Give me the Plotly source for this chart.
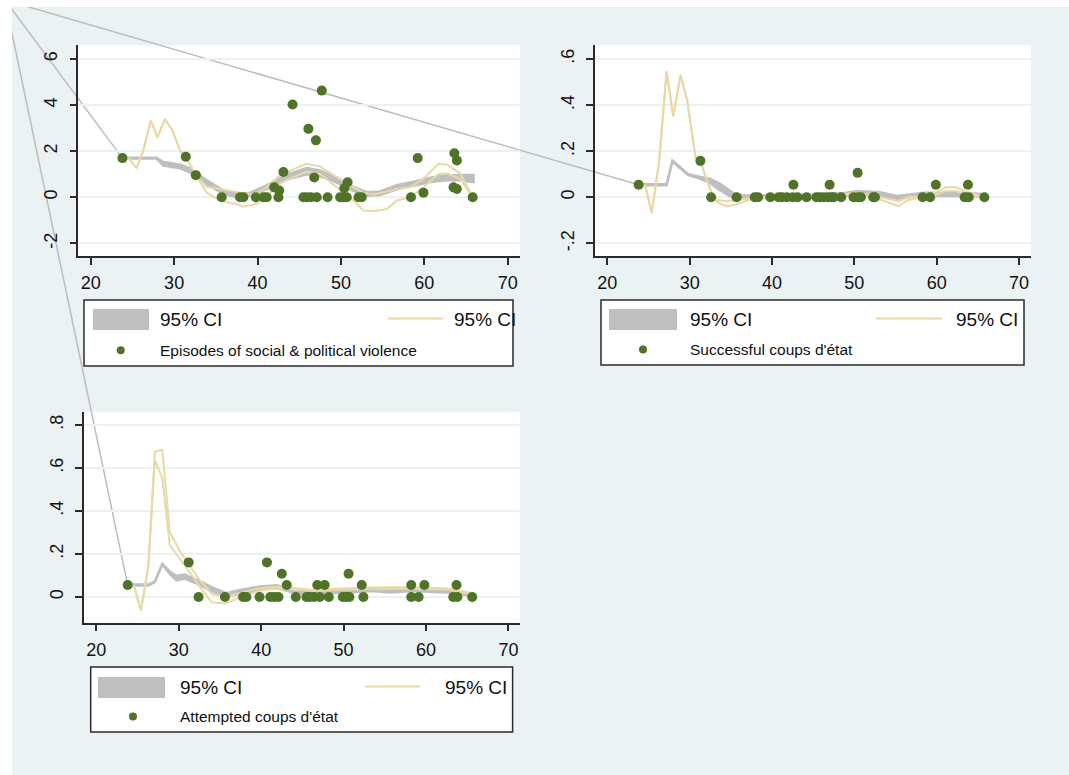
import plotly.graph_objects as go

W, H = 1069, 775

# ---------------- data ----------------
x_ticks = [20, 30, 40, 50, 60, 70]

# Panel 1: Episodes of social & political violence
age_violence = [23.8, 31.4, 32.6, 35.7, 37.9, 38.3, 39.8, 40.7, 41.1, 42.0, 42.5, 42.6, 43.1, 44.2,
                45.5, 45.9, 46.1, 46.4, 46.8, 47.0, 47.1, 47.7, 48.4, 49.9, 50.3, 50.4, 50.7, 50.8,
                52.1, 52.5, 58.4, 59.2, 59.9, 63.5, 63.6, 63.9, 63.9, 65.8]
violence = [1.70, 1.76, 0.96, 0, 0, 0, 0, 0, 0, 0.43, 0, 0.29, 1.10, 4.03,
            0, 0, 2.97, 0, 0.86, 2.47, 0, 4.63, 0, 0, 0, 0.39, 0, 0.65,
            0, 0, 0, 1.70, 0.20, 0.43, 1.91, 1.60, 0.36, 0]
band1_x = [23.8, 26.0, 27.9, 28.7, 30.7, 31.9, 33.9, 35.9, 37.5, 39.1, 41.1, 43.5, 45.9, 47.5,
           49.5, 51.5, 53.1, 54.7, 56.7, 58.7, 60.7, 62.7, 64.3, 65.9]
band1_hi = [1.72, 1.72, 1.72, 1.53, 1.42, 1.25, 0.74, 0.30, 0.15, 0.20, 0.52, 0.98, 1.27, 1.16,
            0.85, 0.45, 0.22, 0.25, 0.52, 0.67, 0.85, 0.96, 0.98, 0.97]
band1_lo = [1.68, 1.68, 1.68, 1.37, 1.26, 1.08, 0.57, 0.15, 0.00, 0.07, 0.35, 0.77, 1.00, 0.91,
            0.64, 0.28, 0.07, 0.10, 0.35, 0.50, 0.66, 0.74, 0.74, 0.66]
ci1_x = [23.8, 24.6, 25.5, 26.3, 27.2, 28.0, 28.9, 29.8, 30.7, 31.4, 32.6, 33.9, 35.5, 37.5, 38.3,
         39.5, 40.3, 41.1, 42.7, 43.5, 45.9, 47.5, 49.5, 51.5, 52.7, 53.9, 55.5, 56.7, 58.3, 59.9,
         61.7, 62.7, 64.3, 65.5]
ci1_hi = [1.70, 1.68, 1.26, 2.03, 3.33, 2.61, 3.39, 2.90, 2.03, 1.76, 0.96, 0.45, 0.36, 0.22, 0.18,
          0.12, 0.25, 0.43, 0.95, 1.09, 1.45, 1.33, 0.87, 0.43, 0.20, 0.12, 0.25, 0.36, 0.43, 0.80,
          1.45, 1.42, 1.04, 0.22]
ci1_lo = [1.70, 1.68, 1.26, 2.03, 3.33, 2.61, 3.39, 2.90, 2.03, 1.76, 0.96, 0.20, -0.14, -0.30, -0.41,
          -0.32, -0.20, 0.05, 0.58, 0.75, 1.12, 1.01, 0.43, -0.14, -0.58, -0.61, -0.51, -0.14, 0.00, 0.43,
          1.01, 1.04, 0.80, 0.14]
y1_ticks = [-2, 0, 2, 4, 6]
y1_labels = ["-2", "0", "2", "4", "6"]

# Panel 2: Successful coups d'etat
age_success = [23.8, 31.3, 32.6, 35.7, 37.9, 38.3, 39.8, 40.8, 41.2, 41.8, 42.5, 42.6, 43.1, 44.2,
               45.4, 45.8, 46.3, 46.8, 47.0, 47.2, 47.5, 48.4, 49.9, 50.4, 50.4, 50.8, 52.3, 52.5,
               58.3, 59.2, 59.9, 63.4, 63.8, 63.9, 65.8]
success = [0.054, 0.158, 0, 0, 0, 0, 0, 0, 0, 0, 0, 0.054, 0, 0,
           0, 0, 0, 0, 0.054, 0, 0, 0, 0, 0, 0.106, 0, 0, 0,
           0, 0, 0.054, 0, 0.054, 0, 0]
band2_x = [23.8, 27.2, 27.9, 29.8, 31.3, 32.5, 33.7, 35.3, 36.5, 38.1, 40.0, 43.0, 46.0, 48.7,
           50.3, 53.1, 55.2, 58.4, 60.8, 63.3, 65.7]
band2_hi = [0.056, 0.056, 0.159, 0.101, 0.088, 0.080, 0.058, 0.018, 0.008, 0.009, 0.011, 0.011, 0.012,
            0.018, 0.027, 0.022, 0.006, 0.020, 0.019, 0.020, 0.013]
band2_lo = [0.052, 0.052, 0.155, 0.097, 0.080, 0.062, 0.030, -0.003, -0.007, -0.003, -0.001, -0.001,
            0.000, 0.004, 0.013, 0.008, -0.006, 0.008, 0.005, 0.006, 0.001]
ci2_x = [23.8, 24.6, 25.4, 26.3, 27.2, 28.0, 28.9, 29.7, 30.7, 31.3, 32.1, 32.7, 33.3, 34.5, 35.7,
         37.5, 39.8, 44.0, 48.0, 50.1, 52.6, 55.4, 56.5, 58.5, 59.9, 61.1, 62.3, 63.9, 65.8]
ci2_hi = [0.054, 0.050, -0.068, 0.160, 0.547, 0.351, 0.531, 0.420, 0.174, 0.158, 0.073, 0.015, -0.012,
          -0.017, -0.012, -0.003, 0.000, 0.003, 0.008, 0.021, 0.005, -0.017, 0.000, 0.005, 0.021, 0.043,
          0.043, 0.021, 0.000]
ci2_lo = [0.054, 0.050, -0.068, 0.160, 0.547, 0.351, 0.531, 0.420, 0.174, 0.158, 0.073, 0.015, -0.020,
          -0.040, -0.030, -0.008, -0.003, -0.001, 0.002, 0.012, -0.002, -0.040, -0.012, 0.000, 0.010,
          0.027, 0.027, 0.010, -0.003]
y2_ticks = [-0.2, 0, 0.2, 0.4, 0.6]
y2_labels = ["-.2", "0", ".2", ".4", ".6"]

# Panel 3: Attempted coups d'etat
age_attempt = [23.8, 31.2, 32.4, 35.6, 37.8, 38.2, 39.8, 40.7, 41.1, 41.6, 42.1, 42.5, 43.1, 44.2,
               45.5, 45.9, 46.4, 46.8, 47.1, 47.7, 48.2, 49.9, 50.3, 50.6, 50.7, 52.2, 52.4, 58.2,
               58.2, 59.1, 59.8, 63.3, 63.7, 63.8, 65.6]
attempt = [0.056, 0.161, 0, 0, 0, 0, 0, 0.161, 0, 0, 0, 0.108, 0.056, 0,
           0, 0, 0, 0.056, 0, 0.056, 0, 0, 0, 0.108, 0, 0.056, 0, 0.056,
           0, 0, 0.056, 0, 0.056, 0, 0]
band3_x = [23.8, 26.3, 27.1, 28.0, 28.9, 29.7, 30.7, 32.2, 34.2, 35.8, 37.0, 39.8, 41.9, 43.9,
           46.3, 50.0, 53.6, 55.6, 58.4, 62.5, 65.7]
band3_hi = [0.058, 0.058, 0.073, 0.155, 0.118, 0.099, 0.104, 0.080, 0.042, 0.018, 0.029, 0.049, 0.055,
            0.032, 0.023, 0.031, 0.038, 0.031, 0.038, 0.031, 0.015]
band3_lo = [0.054, 0.054, 0.069, 0.151, 0.108, 0.077, 0.086, 0.062, 0.024, 0.002, 0.013, 0.033, 0.043,
            0.020, 0.013, 0.021, 0.028, 0.021, 0.028, 0.021, 0.005]
ci3_x = [23.8, 24.6, 25.4, 26.3, 27.1, 28.0, 28.9, 30.1, 31.6, 32.6, 34.0, 35.6, 37.3, 39.8, 42.2,
         46.3, 50.4, 54.4, 58.4, 62.5, 65.7]
ci3_hi = [0.056, 0.050, -0.064, 0.141, 0.676, 0.684, 0.304, 0.215, 0.130, 0.075, 0.015, 0.000, 0.017,
          0.041, 0.049, 0.033, 0.041, 0.045, 0.045, 0.041, 0.017]
ci3_lo = [0.056, 0.050, -0.064, 0.141, 0.637, 0.552, 0.242, 0.180, 0.100, 0.045, -0.025, -0.030, -0.005,
          0.030, 0.041, 0.028, 0.035, 0.038, 0.038, 0.035, 0.012]
y3_ticks = [0, 0.2, 0.4, 0.6, 0.8]
y3_labels = ["0", ".2", ".4", ".6", ".8"]

series_names = ["Episodes of social & political violence", "Successful coups d'état", "Attempted coups d'état"]
ci_label = "95% CI"

# ---------------- styling ----------------
BG = "#EAF2F3"
GREEN = "#4F7328"
GRAY = "#BFBFBF"
SAND = "#E8D9A6"
AXIS = "#2b2b2b"
FONT = "Liberation Sans, Arial, Helvetica, sans-serif"

# panel layout in page pixels: (left, right, top, bottom)
boxes = [(78.3, 520, 45, 256), (595, 1031, 45, 256), (84, 520, 412.3, 622.7)]
xranges = [[18.51, 71.47], [18.5, 71.46], [18.5, 71.4]]
yranges = [[-2.55, 6.61], [-0.255, 0.661], [-0.1195, 0.859]]

def px(x):
    return x / W

def py(y):
    return 1 - y / H

panels = [
    (age_violence, violence, band1_x, band1_lo, band1_hi, ci1_x, ci1_lo, ci1_hi, y1_ticks, y1_labels),
    (age_success, success, band2_x, band2_lo, band2_hi, ci2_x, ci2_lo, ci2_hi, y2_ticks, y2_labels),
    (age_attempt, attempt, band3_x, band3_lo, band3_hi, ci3_x, ci3_lo, ci3_hi, y3_ticks, y3_labels),
]

fig = go.Figure()
layout_axes = {}
shapes = []
for i, (ax, ay, bx, blo, bhi, cx, clo, chi, yt, yl) in enumerate(panels):
    n = "" if i == 0 else str(i + 1)
    xa, ya = "x" + n, "y" + n
    # gray CI band
    fig.add_trace(go.Scatter(x=bx + bx[::-1], y=bhi + blo[::-1], xaxis=xa, yaxis=ya,
                             mode="lines", fill="toself", fillcolor=GRAY,
                             line=dict(color=GRAY, width=2.5), showlegend=False, hoverinfo="skip"))
    # sand CI lines
    for arr in (chi, clo):
        fig.add_trace(go.Scatter(x=cx, y=arr, xaxis=xa, yaxis=ya, mode="lines",
                                 line=dict(color=SAND, width=2), showlegend=False))
    # observations
    fig.add_trace(go.Scatter(x=ax, y=ay, xaxis=xa, yaxis=ya, mode="markers",
                             marker=dict(color=GREEN, size=10), name=series_names[i], showlegend=False))
    l, r, t, b = boxes[i]
    common = dict(showline=True, linecolor=AXIS, linewidth=1.5, ticks="outside", ticklen=7,
                  tickwidth=1.5, tickcolor=AXIS, zeroline=False,
                  tickfont=dict(family=FONT, size=18, color="#111"))
    layout_axes["xaxis" + n] = dict(domain=[px(l), px(r)], anchor=ya, range=xranges[i],
                                    tickvals=x_ticks, showgrid=False, ticklabelstandoff=3, **common)
    layout_axes["yaxis" + n] = dict(domain=[py(b), py(t)], anchor=xa, range=yranges[i],
                                    tickvals=yt, ticktext=yl, tickangle=-90, showgrid=True,
                                    gridcolor=BG, gridwidth=2, ticklabelstandoff=5, **common)
    # stray outline segment from the page corner to the first band point (as in the original)
    fx = px(l) + (bx[0] - xranges[i][0]) / (xranges[i][1] - xranges[i][0]) * (px(r) - px(l))
    fy = py(b) + ((blo[0] + bhi[0]) / 2 - yranges[i][0]) / (yranges[i][1] - yranges[i][0]) * (py(t) - py(b))
    shapes.append(dict(type="line", xref="paper", yref="paper", x0=px(5), y0=py(0), x1=fx, y1=fy,
                       line=dict(color="#BDBDBD", width=1.5), layer="below"))

# white strips around the graph region
shapes.append(dict(type="rect", xref="paper", yref="paper", x0=0, x1=px(12), y0=0, y1=1,
                   fillcolor="white", line=dict(width=0), layer="below"))
shapes.append(dict(type="rect", xref="paper", yref="paper", x0=0, x1=1, y0=py(7), y1=1,
                   fillcolor="white", line=dict(width=0), layer="below"))

# legends (Stata style boxes)
legends = [
    dict(box=(84, 300, 513, 366), rect=(93, 309, 149, 330), t1=160, line=(388, 443), t2=454, dot=120.7, t3=160),
    dict(box=(601, 300, 1024, 365), rect=(609, 309, 677, 330), t1=690, line=(876, 942), t2=956, dot=643, t3=690),
    dict(box=(90.7, 667, 512.6, 732), rect=(98, 677, 165, 698), t1=180, line=(365, 420), t2=445, dot=133, t3=180),
]
annotations = []
for i, lg in enumerate(legends):
    x0, y0, x1, y1 = lg["box"]
    shapes.append(dict(type="rect", xref="paper", yref="paper", x0=px(x0), x1=px(x1), y0=py(y1), y1=py(y0),
                       fillcolor="white", line=dict(color=AXIS, width=1.5), layer="above"))
    rx0, ry0, rx1, ry1 = lg["rect"]
    shapes.append(dict(type="rect", xref="paper", yref="paper", x0=px(rx0), x1=px(rx1), y0=py(ry1), y1=py(ry0),
                       fillcolor=GRAY, line=dict(width=0), layer="above"))
    row1 = (ry0 + ry1) / 2
    row2 = y0 + (y1 - y0) * 0.76
    shapes.append(dict(type="line", xref="paper", yref="paper", x0=px(lg["line"][0]), x1=px(lg["line"][1]),
                       y0=py(row1 - 1), y1=py(row1 - 1), line=dict(color=SAND, width=2), layer="above"))
    shapes.append(dict(type="circle", xref="paper", yref="paper", x0=px(lg["dot"] - 4), x1=px(lg["dot"] + 4),
                       y0=py(row2 + 4), y1=py(row2 - 4), fillcolor=GREEN, line=dict(width=0), layer="above"))
    for tx, ty, txt, fs in ((lg["t1"], row1, ci_label, 19), (lg["t2"], row1, ci_label, 19),
                            (lg["t3"], row2, series_names[i], 15.5)):
        annotations.append(dict(x=px(tx), y=py(ty), xref="paper", yref="paper", text=txt, showarrow=False,
                                xanchor="left", yanchor="middle", xshift=-2,
                                font=dict(family=FONT, size=fs, color="#111")))

fig.update_layout(
    width=W, height=H, margin=dict(l=0, r=0, t=0, b=0),
    paper_bgcolor=BG, plot_bgcolor="white", showlegend=False,
    shapes=shapes, annotations=annotations, **layout_axes,
)

fig.write_html("out.html", config={"displayModeBar": False},
               post_script="document.body.style.margin='0';")
